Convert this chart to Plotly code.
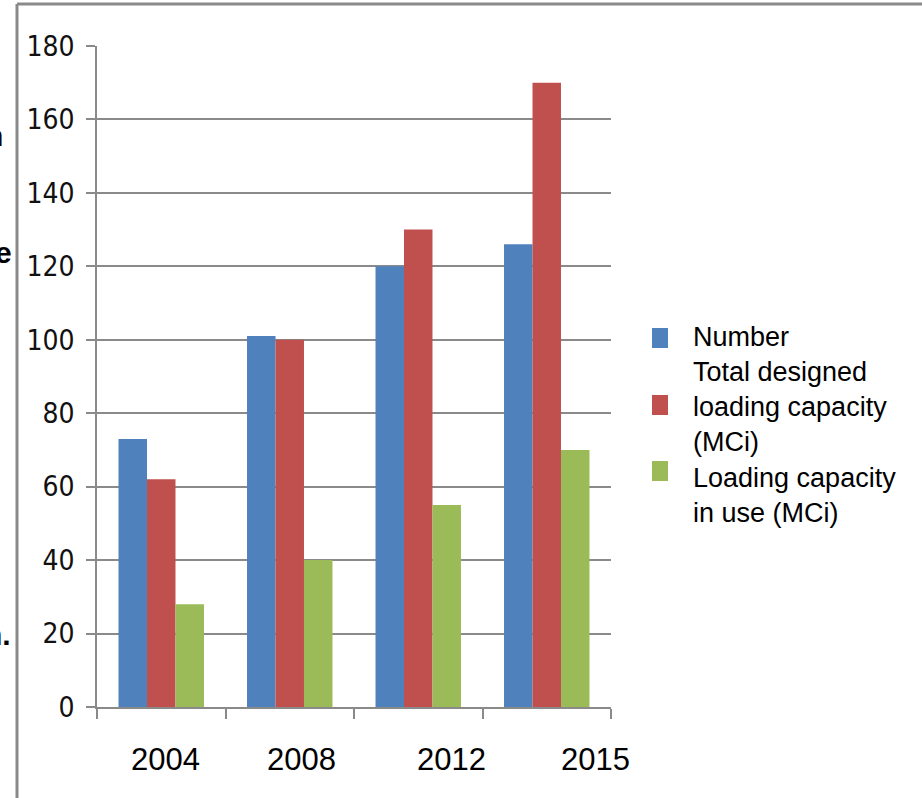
import plotly.graph_objects as go

# ---- data ----
years = ["2004", "2008", "2012", "2015"]
number = [73, 101, 120, 126]
designed_capacity = [62, 100, 130, 170]
capacity_in_use = [28, 40, 55, 70]

series_names = ["Number", "Total designed loading capacity (MCi)", "Loading capacity in use (MCi)"]
legend_lines = [["Number"], ["Total designed", "loading capacity", "(MCi)"], ["Loading capacity", "in use (MCi)"]]
colors = ["#4F81BD", "#C0504D", "#9BBB59"]

# ---- page geometry (pixels) ----
W, H = 922, 798
PL, PR, PT, PB = 97, 611, 46, 707          # plot area edges
GRAY = "#8a8a8a"


def px_x(x):
    return (x - PL) / (PR - PL)


def px_y(y):
    return (PB - y) / (PB - PT)


fig = go.Figure()
for name, vals, col in zip(series_names, [number, designed_capacity, capacity_in_use], colors):
    fig.add_trace(go.Bar(x=years, y=vals, name=name, marker=dict(color=col, line=dict(width=0)),
                         showlegend=False))

fig.update_layout(
    width=W, height=H,
    margin=dict(l=PL, r=W - PR, t=PT, b=H - PB, pad=0),
    paper_bgcolor="white", plot_bgcolor="white",
    barmode="group", bargap=0.335, bargroupgap=0,
    font=dict(family="Liberation Sans, Arial, sans-serif", color="black"),
)
fig.update_yaxes(
    range=[0, 180], dtick=20, tick0=0,
    showgrid=True, gridcolor=GRAY, gridwidth=1.5,
    showline=True, linecolor=GRAY, linewidth=1.5,
    ticks="outside", ticklen=9, tickcolor=GRAY, tickwidth=1.5,
    ticklabelstandoff=6,
    tickfont=dict(family="Liberation Sans Narrow, DejaVu Sans Condensed, Liberation Sans",
                  size=28, color="#111"),
    zeroline=False,
)
fig.update_xaxes(
    type="category", range=[-0.5, len(years) - 0.5],
    showline=True, linecolor=GRAY, linewidth=1.5,
    ticks="outside", tickson="boundaries", ticklen=10, tickcolor=GRAY, tickwidth=1.5,
    showticklabels=False, showgrid=False,
)

# year labels under the groups
label_nudge = [4, 12, 33, 49]
for i, (yr, dx) in enumerate(zip(years, label_nudge)):
    fig.add_annotation(x=i, xref="x", y=px_y(760), yref="paper", text=yr, showarrow=False,
                       xshift=dx, xanchor="center", yanchor="middle",
                       font=dict(size=31, color="black"))

# legend drawn beside the plot
marker_centers = [338, 405, 471]
block_centers = [337, 407, 495]
for lines, col, my, ty in zip(legend_lines, colors, marker_centers, block_centers):
    fig.add_shape(type="rect", xref="paper", yref="paper",
                  x0=px_x(652), x1=px_x(668), y0=px_y(my - 10), y1=px_y(my + 10),
                  fillcolor=col, line=dict(width=0))
    fig.add_annotation(x=px_x(691), y=px_y(ty), xref="paper", yref="paper",
                       text="<br>".join(lines), showarrow=False, align="left",
                       xanchor="left", yanchor="middle",
                       font=dict(size=27, color="black"))

# frame around the chart
fig.add_shape(type="line", xref="paper", yref="paper",
              x0=px_x(17), x1=px_x(W + 5), y0=px_y(4), y1=px_y(4),
              line=dict(color=GRAY, width=3))
fig.add_shape(type="line", xref="paper", yref="paper",
              x0=px_x(17), x1=px_x(17), y0=px_y(4), y1=px_y(H + 5),
              line=dict(color=GRAY, width=3))

# edges of slide text peeking out on the left
for txt, xr, yc in [("n", 5, 135), ("e", 14, 253), ("n.", 13, 634)]:
    fig.add_annotation(x=px_x(xr), y=px_y(yc), xref="paper", yref="paper", text="<b>%s</b>" % txt,
                       showarrow=False, xanchor="right", yanchor="middle",
                       font=dict(size=30, color="black"))

fig.write_html("out.html")
